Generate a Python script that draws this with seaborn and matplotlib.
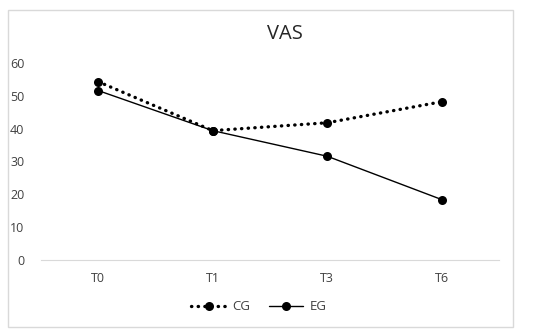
import pandas as pd
import matplotlib
matplotlib.use("Agg")
import matplotlib.pyplot as plt
import seaborn as sns
from matplotlib.patches import Rectangle
from matplotlib.lines import Line2D

# Data
times = ["T0", "T1", "T3", "T6"]
cg = [54.3, 39.4, 41.8, 48.2]
eg = [51.6, 39.4, 31.6, 18.4]

df = pd.DataFrame({
    "time": times * 2,
    "value": cg + eg,
    "group": ["CG"] * 4 + ["EG"] * 4,
})

sns.set_style("white")
plt.rcParams["font.family"] = ["Open Sans", "DejaVu Sans"]

fig = plt.figure(figsize=(5.5, 3.35), dpi=100)
ax = fig.add_axes([41 / 550, 1 - 260 / 335, 458 / 550, 197 / 335])

dot = (0, (0.1, 1.9))
sns.lineplot(data=df, x="time", y="value", hue="group", style="group",
             palette={"CG": "black", "EG": "black"},
             dashes={"CG": dot[1], "EG": ""},
             markers={"CG": "o", "EG": "o"}, markersize=6.5,
             markeredgewidth=0, sort=False, ax=ax, legend=False)
ax.lines[0].set_linewidth(2.4)
ax.lines[0].set_dash_capstyle("round")
ax.lines[1].set_linewidth(1.0)

ax.set_xlim(-0.5, 3.5)
ax.set_ylim(0, 60)
ax.set_yticks(range(0, 61, 10))
ax.set_xlabel("")
ax.set_ylabel("")
for s in ["top", "right", "left"]:
    ax.spines[s].set_visible(False)
ax.spines["bottom"].set_color("#d9d9d9")
ax.spines["bottom"].set_linewidth(0.8)
ax.tick_params(axis="both", length=0, labelsize=9, labelcolor="#404040")
ax.tick_params(axis="y", pad=12)
ax.tick_params(axis="x", pad=9)

fig.text(285 / 550, 1 - 34 / 335, "VAS", ha="center", va="center",
         fontsize=14.5, color="#262626")

# legend
handles = [
    Line2D([], [], color="black", lw=2.4, ls=dot, dash_capstyle="round",
           marker="o", markersize=6.5, markeredgewidth=0),
    Line2D([], [], color="black", lw=1.0, marker="o",
           markersize=6.5, markeredgewidth=0),
]
fig.legend(handles, ["CG", "EG"], loc="center", ncol=2,
           bbox_to_anchor=(259 / 550, 1 - 307 / 335), frameon=False,
           fontsize=9.5, labelcolor="#404040", handlelength=2.6,
           columnspacing=1.4, handletextpad=0.5)

fig.patches.append(Rectangle((8 / 550, 1 - 327 / 335), 505 / 550, 317 / 335,
                             transform=fig.transFigure, fill=False,
                             edgecolor="#d9d9d9", linewidth=1))

fig.savefig("out.png", dpi=100, facecolor="white")
